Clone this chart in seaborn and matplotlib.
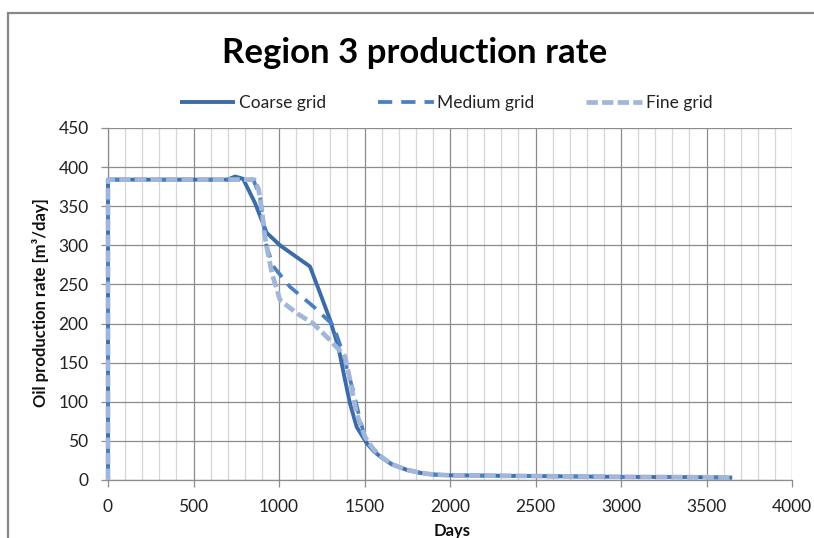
import numpy as np
import pandas as pd
import matplotlib
matplotlib.use("Agg")
import matplotlib.pyplot as plt
from matplotlib.patches import Rectangle
from matplotlib.ticker import MultipleLocator
import seaborn as sns

# Oil production rate for region 3, three grid resolutions
coarse_days = [0, 0, 500, 700, 743, 790, 860, 928, 1006, 1103, 1181, 1240, 1298,
               1347, 1386, 1415, 1454, 1513, 1550, 1591, 1660, 1747, 1830, 1902, 2000,
               2500, 3000, 3500, 3650]
coarse_rate = [0, 384, 384, 384, 388, 385, 354, 316, 300, 285, 273, 239, 205,
               170, 128, 98, 68, 47, 38, 30, 20, 13, 9, 7, 6,
               5, 4, 3.5, 3]

medium_days = [0, 0, 500, 850, 889, 907, 928, 967, 1064, 1200, 1317, 1374, 1404,
               1433, 1474, 1513, 1550, 1591, 1660, 1747, 1830, 1902, 2000,
               2500, 3000, 3500, 3650]
medium_rate = [0, 384, 384, 384, 362, 332, 298, 273, 247, 222, 198, 162, 137,
               115, 77, 47, 38, 30, 20, 13, 9, 7, 6,
               5, 4, 3.5, 3]

fine_days = [0, 0, 500, 855, 880, 900, 915, 935, 959, 1006, 1105, 1200, 1298,
             1386, 1415, 1454, 1503, 1550, 1591, 1660, 1747, 1830, 1902, 2000,
             2500, 3000, 3500, 3650]
fine_rate = [0, 384, 384, 384, 372, 345, 315, 290, 264, 230, 213, 200, 179,
             158, 128, 85, 55, 40, 31, 20, 13, 9, 7, 6,
             5, 4, 3.5, 3]

series_names = ["Coarse grid", "Medium grid", "Fine grid"]
x_ticks = [0, 500, 1000, 1500, 2000, 2500, 3000, 3500, 4000]
y_ticks = [0, 50, 100, 150, 200, 250, 300, 350, 400, 450]

sns.set_theme(style="white")
plt.rcParams["font.family"] = ["Lato", "DejaVu Sans"]

W, H = 814, 538
fig = plt.figure(figsize=(W / 100, H / 100), dpi=100)
ax = fig.add_axes([108 / W, 1 - 480 / H, (792 - 108) / W, (480 - 128) / H])

styles = {
    "Coarse grid": dict(color="#3B6BA8", lw=2.8, dashes=None, zorder=3),
    "Medium grid": dict(color="#4A80C2", lw=2.7, dashes=(3.8, 2.4), zorder=4),
    "Fine grid": dict(color="#A2B6D9", lw=3.4, dashes=(2.4, 0.9), zorder=5),
}

data = {
    "Coarse grid": (coarse_days, coarse_rate),
    "Medium grid": (medium_days, medium_rate),
    "Fine grid": (fine_days, fine_rate),
}

handles = []
for name in series_names:
    d, r = data[name]
    st = styles[name]
    df = pd.DataFrame({"Days": d, "Rate": r})
    sns.lineplot(data=df, x="Days", y="Rate", ax=ax, estimator=None, sort=False,
                 color=st["color"], linewidth=st["lw"], zorder=st["zorder"],
                 legend=False)
    line = ax.lines[-1]
    if st["dashes"] is not None:
        line.set_dashes(st["dashes"])
    line.set_solid_capstyle("butt")
    line.set_dash_capstyle("butt")
    line.set_solid_joinstyle("round")
    line.set_clip_on(False)
    handles.append(line)

if ax.get_legend() is not None:
    ax.get_legend().remove()

ax.set_xlim(0, 4000)
ax.set_ylim(0, 450)
ax.set_xticks(x_ticks)
ax.set_yticks(y_ticks)
ax.xaxis.set_minor_locator(MultipleLocator(100))

ax.grid(which="major", axis="both", color="#8C8C8C", linewidth=0.9, zorder=0)
ax.grid(which="minor", axis="x", color="#D6D6D6", linewidth=0.9, zorder=0)
ax.set_axisbelow(True)

for side in ["top", "right"]:
    ax.spines[side].set_visible(False)
for side in ["left", "bottom"]:
    ax.spines[side].set_color("#8C8C8C")
    ax.spines[side].set_linewidth(0.9)

ax.tick_params(axis="both", which="major", direction="out", length=5, width=0.9,
               color="#8C8C8C", labelsize=12.5, labelcolor="#222222",
               left=True, bottom=True)
ax.tick_params(axis="y", pad=9)
ax.tick_params(axis="x", pad=9)
ax.tick_params(axis="x", which="minor", length=0)

ax.set_xlabel("")
ax.set_ylabel("")
fig.text(41 / W, 1 - 303 / H, "Oil production rate [m³/day]", rotation=90,
         ha="center", va="center", fontsize=12, fontweight="bold", color="#111111")
fig.text(452 / W, 1 - 531 / H, "Days", ha="center", va="center",
         fontsize=12, fontweight="bold", color="#111111")

fig.text(415 / W, 1 - 53 / H, "Region 3 production rate", ha="center", va="center",
         fontsize=25, fontweight="bold", color="#000000")

leg = fig.legend(handles=handles, labels=series_names, loc="center",
                 bbox_to_anchor=(446 / W, 1 - 103 / H), ncol=3, frameon=False,
                 fontsize=12.5, handlelength=3.2, handletextpad=0.2, columnspacing=3.0)
for t in leg.get_texts():
    t.set_color("#222222")

# outer chart frame
fig.patches.append(Rectangle((8 / W, -0.2), 1.2, 0.2 + (1 - 13 / H),
                             transform=fig.transFigure, fill=False,
                             edgecolor="#878787", linewidth=1.6, clip_on=False))

fig.savefig("out.png", dpi=100)
